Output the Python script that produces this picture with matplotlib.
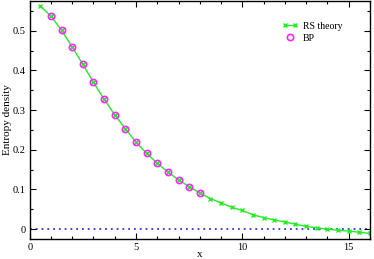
import numpy as np
import matplotlib.pyplot as plt
from matplotlib.ticker import MultipleLocator
from matplotlib.legend_handler import HandlerLine2D

plt.rcParams['font.family'] = ['Liberation Serif', 'DejaVu Serif']

# RS theory curve, x from 0.5 to 16 in steps of 0.5
rs_x = [0.5, 1.0, 1.5, 2.0, 2.5, 3.0, 3.5, 4.0, 4.5, 5.0, 5.5, 6.0, 6.5, 7.0, 7.5, 8.0,
        8.5, 9.0, 9.5, 10.0, 10.5, 11.0, 11.5, 12.0, 12.5, 13.0, 13.5, 14.0, 14.5, 15.0,
        15.5, 16.0]
rs_y = [0.562, 0.537, 0.501, 0.459, 0.415, 0.370, 0.327, 0.288, 0.253, 0.219, 0.191,
        0.166, 0.144, 0.124, 0.107, 0.091, 0.077, 0.066, 0.055, 0.047, 0.036, 0.029,
        0.023, 0.018, 0.012, 0.007, 0.003, 0.000, -0.003, -0.005, -0.008, -0.011]

# BP points
bp_x = [1.0, 1.5, 2.0, 2.5, 3.0, 3.5, 4.0, 4.5, 5.0, 5.5, 6.0, 6.5, 7.0, 7.5, 8.0]
bp_y = [0.537, 0.501, 0.459, 0.415, 0.370, 0.327, 0.288, 0.253, 0.219, 0.191,
        0.166, 0.144, 0.124, 0.107, 0.091]

fig = plt.figure(figsize=(3.74, 2.59), dpi=100)
ax = fig.add_axes([0.0794, 0.0772, 0.9096, 0.919])

ax.axhline(0, color='#3030ff', linestyle=(0, (1, 2.2)), lw=1.3, zorder=1)
rs_line, = ax.plot(rs_x, rs_y, color='#22ee22', lw=1.0, marker='x', ms=3.5, mew=1.0,
                   label='RS theory', zorder=2)
ax.plot(bp_x, bp_y, linestyle='none', marker='o', ms=4.5, mfc='none',
        mec='#ff22ff', mew=1.2, label='BP', zorder=3)

ax.set_xlim(0, 16)
ax.set_ylim(-0.025, 0.575)
ax.xaxis.set_major_locator(MultipleLocator(5))
ax.xaxis.set_minor_locator(MultipleLocator(1))
ax.yaxis.set_major_locator(MultipleLocator(0.1))
ax.yaxis.set_minor_locator(MultipleLocator(0.05))
ax.set_yticks([0, 0.1, 0.2, 0.3, 0.4, 0.5])
ax.set_yticklabels(['0', '0.1', '0.2', '0.3', '0.4', '0.5'])
ax.tick_params(which='both', direction='in', top=True, right=True, labelsize=7.5, pad=3)
ax.tick_params(which='major', length=4, width=0.8)
ax.tick_params(which='minor', length=2.5, width=0.8)
for s in ax.spines.values():
    s.set_linewidth(1.0)

ax.set_xlabel('x', fontsize=8)
ax.xaxis.set_label_coords(0.5, -0.045)
ax.set_ylabel('Entropy density', fontsize=8)
ax.yaxis.set_label_coords(-0.052, 0.5)

ax.legend(loc='upper right', bbox_to_anchor=(0.945, 0.95), frameon=False, fontsize=7,
          handlelength=1.6, handletextpad=0.5, labelspacing=0.3,
          handler_map={rs_line: HandlerLine2D(numpoints=2)})

fig.savefig('out.png', dpi=100)
